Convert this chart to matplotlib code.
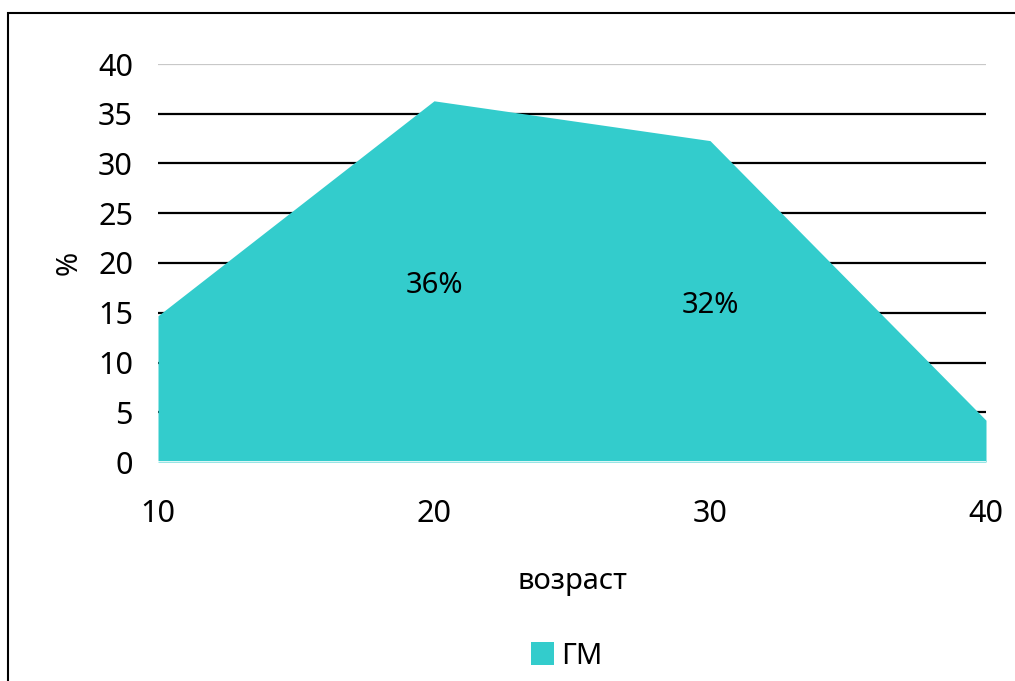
import matplotlib
matplotlib.use("Agg")
import matplotlib.pyplot as plt
from matplotlib.patches import Rectangle, Patch

# Share of cases by age group
ages = [10, 20, 30, 40]
share = [14.7, 36.3, 32.3, 4.2]
labelled = {20: "36%", 30: "32%"}
y_ticks = [0, 5, 10, 15, 20, 25, 30, 35, 40]
series_name = "ГМ"
fill_color = "#33CCCC"

plt.rcParams["font.family"] = ["Noto Sans", "DejaVu Sans"]

W, H = 1015, 681
fig = plt.figure(figsize=(W / 100, H / 100), dpi=100)
ax = fig.add_axes([158 / W, 1 - 462 / H, (986 - 158) / W, (462 - 64) / H])

# horizontal gridlines: dark lines, the top one lighter
for t in y_ticks[1:]:
    col = "#C8C8C8" if t == y_ticks[-1] else "black"
    ax.axhline(t, color=col, lw=1.6, zorder=0)

ax.fill_between(ages, share, 0, color=fill_color, lw=0, zorder=2)
ax.axhline(0, color="white", lw=1.2, zorder=3)

for x, y in zip(ages, share):
    if x in labelled:
        ax.text(x, y / 2 - 0.4, labelled[x], ha="center", va="center",
                fontsize=21, color="black", zorder=4)

ax.set_xlim(ages[0], ages[-1])
ax.set_ylim(0, 40)
ax.set_xticks(ages)
ax.set_yticks(y_ticks)
ax.tick_params(length=0, labelsize=22, colors="black")
ax.tick_params(axis="y", pad=18)
ax.tick_params(axis="x", pad=27)
for s in ax.spines.values():
    s.set_visible(False)

ax.set_xlabel("возраст", fontsize=21, labelpad=27)
ax.set_ylabel("%", fontsize=21, labelpad=10)

leg = fig.legend(handles=[Patch(facecolor=fill_color, edgecolor="none", label=series_name)],
                 loc="center", bbox_to_anchor=(567 / W, 1 - 656 / H), frameon=False,
                 fontsize=21, handlelength=0.8, handleheight=0.8, handletextpad=0.25)

# outer chart border
fig.patches.append(Rectangle((8 / W, -0.05), 1.05, 1 - 13 / H + 0.05,
                             transform=fig.transFigure, fill=False,
                             edgecolor="black", lw=1.5))

fig.savefig("out.png", dpi=100)
